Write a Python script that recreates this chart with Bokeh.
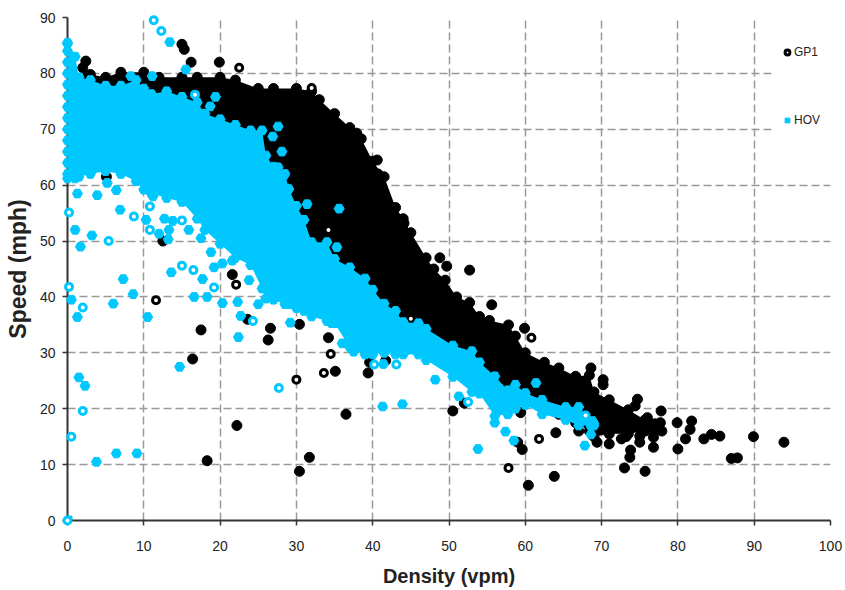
from bokeh.plotting import figure
from bokeh.models import Range1d, FixedTicker, Legend, LegendItem, BoxAnnotation
from bokeh.embed import file_html
from bokeh.resources import INLINE

x_ticks = [0, 10, 20, 30, 40, 50, 60, 70, 80, 90, 100]
y_ticks = [0, 10, 20, 30, 40, 50, 60, 70, 80, 90]

BLACK = "#000000"
BLUE = "#00c8ff"

# dense GP1 cloud, envelope
gp1_cloud_d = [2, 3, 5, 7, 10, 12, 15, 17, 20, 22,
               25, 27, 30, 32, 33, 35, 37, 38.5, 40, 41.5,
               43, 44, 45, 47, 48, 49.5, 51, 52.7, 54, 55.3,
               57.8, 58.7, 60, 62.5, 64.4, 66.6, 68.4, 69, 71, 73.5,
               75.7, 77]
gp1_cloud_hi = [81, 79.8, 79.3, 80.2, 80.2, 79.3, 79.3, 79.3, 79.3, 78.8,
                77.3, 77.3, 77.3, 76.8, 75.3, 72.8, 70.3, 68.3, 64.3, 61.5,
                56, 54, 51.5, 47, 45, 43, 40, 39, 36.5, 35.8,
                35, 33, 30, 28.3, 27.3, 25.8, 26, 23, 21.6, 19.8,
                18, 17.3]
gp1_cloud_lo = [75, 75, 75, 74, 72, 72, 72, 70, 68, 65,
                60, 58, 50, 48, 46, 42, 38, 36, 35, 34,
                33, 32.5, 32, 31, 30, 29, 28, 26, 26, 25,
                24, 23, 21, 20, 19, 17.5, 16, 15, 15.5, 15.5,
                16, 16]

# dense HOV cloud, envelope
hov_cloud_d = [0, 1, 1.5, 3, 5, 7, 9, 10, 11, 13,
               15, 17, 18, 20, 22, 24, 25.5, 26, 27, 28.5,
               29, 30, 31, 32, 34, 35, 37, 39, 40, 41.5,
               43, 44, 46, 47, 50.5, 53, 54, 56, 57.7, 58.7,
               60, 62.2, 65.3, 67, 69]
hov_cloud_hi = [85.3, 83, 79.3, 78.8, 77.8, 77.8, 78.8, 77.3, 76.3, 76.8,
                75.8, 74.8, 72.8, 71.8, 70.8, 69.8, 69.8, 65.3, 63.3, 62,
                59.3, 56.3, 53.8, 49.8, 49.8, 46.8, 45.3, 43.3, 41.3, 38.8,
                37.5, 35.5, 35.3, 34.3, 31.3, 30.3, 28.3, 25.8, 23.3, 24.3,
                22.8, 21.6, 20.3, 20.3, 17.3]
hov_cloud_lo = [61.2, 61.2, 61.5, 62, 62.5, 62, 60.7, 59.2, 58.5, 57.7,
                57, 54, 52, 49.5, 47, 45.7, 41.5, 39.7, 39.5, 38.7,
                38.7, 38, 37.5, 36.5, 35.7, 35.3, 31, 29.7, 29.7, 30,
                29.7, 29.7, 29.7, 28.7, 25.7, 23, 22.7, 18.7, 19, 20,
                20.7, 19, 18, 17, 17]

gp1_solid_d = [2.4, 15, 15.3, 16.2, 19.9, 5.1, 11.2, 12.5, 21.6, 37.9,
               40.6, 40.7, 44.1, 23.6, 17.5, 26.6, 26.3, 16.4, 30.4, 34.2,
               35.1, 36.5, 22.2, 18.3, 30.4, 31.7, 39.4, 39.6, 41.7, 36.6,
               48.8, 49.7, 52.7, 55.6, 59.9, 50.5, 52, 59.4, 64, 67,
               59.6, 59, 60.4, 63.8, 70.2, 70.2, 68.6, 74.7, 74.4, 77.8,
               77.7, 79.9, 81.8, 81.6, 81, 83.4, 84.4, 85.5, 89.9, 93.9,
               87, 87.8, 80, 76.8, 76.8, 75, 75, 73.8, 73.7, 73,
               75.7, 71, 69.4, 72.6, 77.9, 76, 73.2]
gp1_solid_s = [82.2, 85.2, 84.3, 82, 82, 61.5, 59, 50, 44, 69.3,
               64.5, 62, 53.2, 36, 34.1, 34.4, 32.3, 28.9, 35.1, 32.7,
               26.7, 19, 17, 10.7, 8.8, 11.3, 26.4, 28.3, 28.6, 34.4,
               47, 45.5, 44.8, 38.6, 34.4, 19.6, 21, 19.3, 15.7, 16,
               12.7, 14, 6.3, 7.9, 25.2, 24.3, 27.3, 21.7, 20.5, 19.6,
               17.5, 17.5, 17.8, 16.3, 14.6, 14.6, 15.4, 15.1, 15, 14,
               11.1, 11.2, 12.8, 13.1, 14.9, 15.1, 14, 12.6, 11.3, 9.4,
               8.8, 13.7, 14, 14.6, 16, 18.4, 15]

gp1_ring_d = [22.5, 22.1, 32, 34.2, 11.6, 34.5, 33.6, 30, 45, 60.8, 61.8, 57.8]
gp1_ring_s = [81, 42.2, 77.4, 52, 39.4, 29.8, 26.4, 25.2, 36.1, 32.7, 14.6, 9.4]

hov_solid_d = [0, 0, 0, 0, 0, 0, 0, 0, 0, 0,
               0, 0, 0, 13.4, 15.5, 11.1, 8.3, 19.4, 18.7, 27.6,
               26.9, 28.1, 27.6, 28.3, 28.7, 27, 31.4, 35.6, 35.3, 26,
               1.3, 3.9, 6.4, 5.2, 1, 3.2, 1.7, 6.9, 11.2, 10.3,
               12, 13.2, 13.3, 12.7, 15.9, 13.8, 17.5, 18.8, 13.6, 17.7,
               19.2, 7.3, 8.6, 16.6, 18.3, 23.8, 20.3, 21.6, 0.5, 1.3,
               6, 10.5, 20.3, 22.3, 22.7, 22.4, 29.2, 14.7, 1.5, 2.3,
               3.8, 6.4, 9.1, 41.3, 43.9, 41.4, 36, 37.5, 25, 34.6,
               53.8, 56, 57.4, 58.5, 67.8, 61.4, 51.3, 48.2, 68.6, 68.6,
               68.8]
hov_solid_s = [62, 64, 66, 68, 70, 72, 74, 76, 78, 80,
               82, 84, 85.5, 85.6, 80.7, 79.5, 79.5, 75.8, 74.1, 70.5,
               68.7, 66, 63.2, 61.7, 59.4, 59, 56.6, 55.8, 48.9, 62,
               58.5, 58.2, 59.1, 60.4, 52, 51, 49, 55.6, 58, 53.8,
               51.3, 50.3, 52, 54, 52, 53.6, 50.5, 48, 44.4, 43.2,
               45.3, 43.2, 40.5, 40, 40, 43, 46, 46.5, 39.5, 36.4,
               38.8, 36.4, 38.9, 39.1, 36.6, 32.8, 35.4, 27.5, 25.6, 24.1,
               10.5, 12, 12, 20.4, 20.8, 28, 31.7, 30.2, 38.7, 35.3,
               12.8, 17.5, 15.9, 14.3, 13.4, 24.6, 22.2, 25.2, 16.9, 15.4,
               17.8]

hov_ring_d = [11.3, 12.3, 16.7, 0.2, 5.4, 8.7, 10.8, 10.8, 15, 15,
              16.5, 19.2, 0.2, 2, 24.3, 2, 0.5, 27.7, 0, 43.1,
              40.2, 67.9, 52.5]
hov_ring_s = [89.5, 87.6, 76.2, 55.1, 50, 54.4, 56.2, 52, 53.7, 45.6,
              44.8, 41.7, 41.8, 38.1, 35.7, 19.6, 15, 23.7, 0, 27.9,
              27.9, 18.8, 21.2]

# origin point of the HOV series, which also carries the legend's square key
hov_origin_d = [0]
hov_origin_s = [0]

p = figure(width=844, height=589, output_backend="svg", toolbar_location=None,
           x_range=Range1d(0, 100), y_range=Range1d(0, 90),
           min_border_left=67, min_border_right=14, min_border_top=17,
           min_border_bottom=68, background_fill_color="white",
           border_fill_color="white", outline_line_color=None,
           x_axis_label="Density (vpm)", y_axis_label="Speed (mph)")

for ax, ticks in ((p.xaxis[0], x_ticks), (p.yaxis[0], y_ticks)):
    ax.ticker = FixedTicker(ticks=ticks)
    ax.axis_line_color = "#333333"
    ax.axis_line_width = 2
    ax.major_tick_line_color = "#333333"
    ax.major_tick_line_width = 1.5
    ax.major_tick_in = 0
    ax.major_tick_out = 5
    ax.minor_tick_line_color = None
    ax.major_label_text_font = "Liberation Sans"
    ax.major_label_text_font_size = "14px"
    ax.major_label_text_color = "#222222"
    ax.axis_label_text_font = "Liberation Sans"
    ax.axis_label_text_font_style = "bold"
    ax.axis_label_text_color = "#222222"
p.xaxis[0].axis_label_text_font_size = "20px"
p.yaxis[0].axis_label_text_font_size = "23px"
p.xaxis[0].major_label_standoff = 15
p.yaxis[0].major_label_standoff = 7
p.xaxis[0].axis_label_standoff = 11
p.yaxis[0].axis_label_standoff = 6

for g in (p.xgrid[0], p.ygrid[0]):
    g.grid_line_color = "#999999"
    g.grid_line_width = 1.5
    g.grid_line_dash = "8 4"
p.xgrid[0].ticker = FixedTicker(ticks=x_ticks)
p.ygrid[0].ticker = FixedTicker(ticks=y_ticks)

# blank area of the original legend box, interrupting the grid
p.add_layout(BoxAnnotation(left=92.3, right=100.6, top=89.2, bottom=65.8,
                           fill_color="white", fill_alpha=1, line_color=None))


def series(color, cd, hi, lo, sd, ss, rd, rs, marker):
    p.varea(cd, hi, lo, fill_color=color, level="overlay")
    for vals in (hi, lo):
        p.scatter(cd, vals, marker=marker, size=10, color=color, level="overlay")
    solid = p.scatter(sd, ss, marker=marker, size=10, color=color, level="overlay")
    ring = p.scatter(rd, rs, marker="circle", size=7, line_color=color, line_width=3,
                     fill_color="white", level="overlay")
    return solid, ring


hov_key = p.scatter(hov_origin_d, hov_origin_s, marker="square", size=9, color=BLUE)
_, gp1_r = series(BLACK, gp1_cloud_d, gp1_cloud_hi, gp1_cloud_lo,
                  gp1_solid_d, gp1_solid_s, gp1_ring_d, gp1_ring_s, "circle")
series(BLUE, hov_cloud_d, hov_cloud_hi, hov_cloud_lo,
       hov_solid_d, hov_solid_s, hov_ring_d, hov_ring_s, "hex")

legend = Legend(items=[LegendItem(label="GP1", renderers=[gp1_r]),
                       LegendItem(label="HOV", renderers=[hov_key])],
                location=(714, 390), orientation="vertical",
                padding=0, margin=0, spacing=48, glyph_width=12, glyph_height=12,
                label_height=20, label_width=30, label_standoff=1,
                label_text_font="Liberation Sans", label_text_font_size="12px",
                label_text_color="#222222", border_line_color=None,
                background_fill_alpha=0)
p.add_layout(legend)

open("out.html", "w").write(file_html(p, INLINE))
